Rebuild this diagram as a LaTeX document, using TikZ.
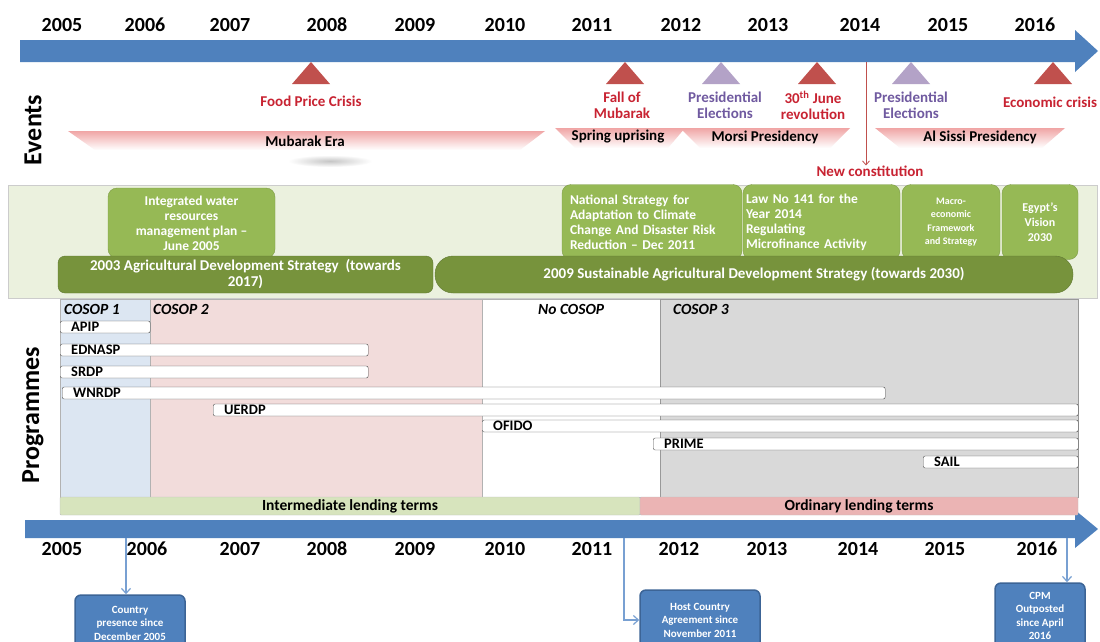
\documentclass[tikz,border=0pt]{standalone}
\usepackage{fontspec}
\setmainfont{Carlito}
\usetikzlibrary{arrows.meta}

\definecolor{tlblue}{RGB}{79,129,189}
\definecolor{tlblueedge}{RGB}{60,100,150}
\definecolor{linkblue}{RGB}{120,160,210}
\definecolor{evred}{RGB}{192,80,77}
\definecolor{evredtxt}{RGB}{200,35,50}
\definecolor{evpurple}{RGB}{179,162,199}
\definecolor{evpurpletxt}{RGB}{112,90,160}
\definecolor{erapink}{RGB}{240,165,165}
\definecolor{polbg}{RGB}{235,241,222}
\definecolor{pollight}{RGB}{150,185,85}
\definecolor{pollightedge}{RGB}{125,155,70}
\definecolor{poldark}{RGB}{119,147,60}
\definecolor{poldarkedge}{RGB}{95,120,50}
\definecolor{cosopone}{RGB}{220,230,242}
\definecolor{cosoptwo}{RGB}{242,220,219}
\definecolor{cosopthree}{RGB}{217,217,217}
\definecolor{intermc}{RGB}{215,228,189}
\definecolor{ordinc}{RGB}{235,180,180}

\begin{document}
\begin{tikzpicture}[x=1pt,y=-1pt,
  yearlabel/.style={font=\fontsize{20}{22}\selectfont\bfseries, inner sep=0},
  sidehead/.style={rotate=90, font=\fontsize{26}{28}\selectfont\bfseries, inner sep=0},
  evtext/.style={font=\fontsize{15}{16}\selectfont\bfseries, align=center, inner sep=0},
  eratext/.style={font=\fontsize{15}{16}\selectfont\bfseries, inner sep=0},
  polsmall/.style={draw=pollightedge, fill=pollight, rounded corners=9pt, text=white,
    font=\fontsize{13.5}{15}\selectfont\bfseries, inner sep=0},
  polbig/.style={draw=poldarkedge, fill=poldark, text=white, align=center,
    font=\fontsize{15}{16}\selectfont\bfseries, minimum height=37pt, inner sep=0},
  cosoplabel/.style={anchor=west, font=\fontsize{15.5}{16}\selectfont\bfseries\itshape, inner sep=0},
  progbar/.style={draw=gray!60!black, fill=white, rounded corners=2pt, anchor=west,
    minimum height=12pt, inner sep=0, inner xsep=11pt, align=left,
    font=\fontsize{14.5}{12}\selectfont\bfseries},
  lending/.style={minimum height=18pt, inner sep=0, rounded corners=1pt,
    font=\fontsize{15.5}{16}\selectfont\bfseries},
  callout/.style={draw=tlblueedge, line width=1.5pt, fill=tlblue, rounded corners=6pt,
    text=white, align=center, font=\fontsize{11}{13.5}\selectfont\bfseries, inner sep=0},
  linkarrow/.style={draw=linkblue, line width=1.2pt, -{Straight Barb[length=5pt,width=9pt]}}]

\useasboundingbox (0,0) rectangle (1100,641);
\clip (0,0) rectangle (1100,641);
\fill[white] (0,0) rectangle (1100,641);

\fill[tlblue] (20,40) -- (1075,40) -- (1075,30) -- (1098,51) -- (1075,72) -- (1075,62) -- (20,62) -- cycle;
\fill[tlblue] (25,520) -- (1075,520) -- (1075,510) -- (1098,529) -- (1075,548) -- (1075,538) -- (25,538) -- cycle;

\foreach \yr/\xx in {2005/62,2006/145,2007/230,2008/327,2009/415,2010/505,2011/592,2012/681,2013/768,2014/860,2015/948,2016/1035}
  \node[yearlabel] (top\yr) at (\xx,25) {\yr};
\foreach \yr/\xx in {2005/62,2006/147,2007/240,2008/327,2009/415,2010/505,2011/592,2012/679,2013/767,2014/858,2015/945,2016/1037}
  \node[yearlabel] (bot\yr) at (\xx,549) {\yr};

\node[sidehead] (evhead) at (33,130) {Events};
\node[sidehead] (polhead) at (33,228) {Policies};
\node[sidehead] (proghead) at (33,415) {Programmes};

\foreach \xx/\col in {311/evred,625/evred,721/evpurple,817/evred,911/evpurple,1053/evred}
  \fill[\col] (\xx-19,84) -- (\xx,62) -- (\xx+19,84) -- cycle;

\node[evtext, text=evredtxt] (food) at (311,101) {Food Price Crisis};
\node[evtext, text=evredtxt] (fall) at (622,105) {Fall of\\Mubarak};
\node[evtext, text=evpurpletxt] (presa) at (725,105) {Presidential\\Elections};
\node[evtext, text=evredtxt] (june) at (813,105) {30\textsuperscript{th} June\\revolution};
\node[evtext, text=evpurpletxt] (presb) at (911,105) {Presidential\\Elections};
\node[evtext, text=evredtxt] (econ) at (1050,102) {Economic crisis};

\shade[inner color=gray!45, outer color=white] (330,161) ellipse (42 and 6);
\shade[top color=erapink, bottom color=white] (68,131) -- (545,131) -- (520,150) -- (95,150) -- cycle;
\shade[top color=erapink, bottom color=white] (555,128) -- (685,128) -- (668,148) -- (575,148) -- cycle;
\shade[top color=erapink, bottom color=white] (680,128) -- (850,128) -- (830,148) -- (700,148) -- cycle;
\shade[top color=erapink, bottom color=white] (875,128) -- (1065,128) -- (1042,148) -- (900,148) -- cycle;
\node[eratext] (mubarak) at (305,141) {Mubarak Era};
\node[eratext] (spring) at (618,137) {Spring uprising};
\node[eratext] (morsi) at (765,137) {Morsi Presidency};
\node[eratext] (sissi) at (980,137) {Al Sissi Presidency};

\coordinate (ncfoot) at (866,62);
\node[evtext, text=evredtxt] (newcon) at (870,171) {New constitution};
\draw[evred, line width=0.8pt, -{Straight Barb[length=4pt,width=7pt]}] (ncfoot) -- (ncfoot |- newcon.north);

\filldraw[fill=polbg, draw=gray!40] (8,185) rectangle (1097,298);
\node[polsmall, minimum width=167pt, minimum height=70pt, align=center] (iwrm) at (191.5,223) {Integrated water\\resources\\management plan –\\June 2005};
\node[polsmall, text width=164pt, inner xsep=8pt, minimum height=75pt, align=left] (nsacc) at (652,222) {National Strategy for\\Adaptation to Climate\\Change And Disaster Risk\\Reduction – Dec 2011};
\node[polsmall, text width=151pt, inner xsep=3pt, minimum height=75pt, align=left] (law) at (821.5,222) {Law No 141 for the\\Year 2014\\Regulating\\Microfinance Activity};
\node[polsmall, minimum width=98pt, minimum height=75pt, align=center, font=\fontsize{10}{13.3}\selectfont\bfseries] (macro) at (951,222) {Macro-\\economic\\Framework\\and Strategy};
\node[polsmall, minimum width=76pt, minimum height=75pt, align=center, font=\fontsize{12}{15}\selectfont\bfseries] (vision) at (1040,222) {Egypt’s\\Vision\\2030};
\node[polbig, minimum width=375pt, rounded corners=7pt] (agrione) at (245.5,274.5) {2003 Agricultural Development Strategy~~(towards\\2017)};
\node[polbig, minimum width=638pt, rounded corners=18pt] (agritwo) at (754,274.5) {2009 Sustainable Agricultural Development Strategy (towards 2030)};

\filldraw[fill=cosopone, draw=gray!60] (60,299) rectangle (150,497);
\filldraw[fill=cosoptwo, draw=gray!60] (150,299) rectangle (482,497);
\filldraw[fill=white, draw=gray!60] (482,299) rectangle (660,497);
\filldraw[fill=cosopthree, draw=gray!80] (660,299) rectangle (1078,497);
\node[cosoplabel] (cosa) at (64,309) {COSOP 1};
\node[cosoplabel] (cosb) at (153,309) {COSOP 2};
\node[cosoplabel] (cosn) at (538,309) {No COSOP};
\node[cosoplabel] (cosc) at (673,309) {COSOP 3};

\node[progbar, text width=68pt] (apip) at (60,327) {APIP};
\node[progbar, text width=286pt] (ednasp) at (60,350) {EDNASP};
\node[progbar, text width=286pt] (srdp) at (60,372) {SRDP};
\node[progbar, text width=801pt] (wnrdp) at (62,393) {WNRDP};
\node[progbar, text width=843pt] (uerdp) at (213,410) {UERDP};
\node[progbar, text width=574pt] (ofido) at (482,426) {OFIDO};
\node[progbar, text width=403pt] (prime) at (653,444) {PRIME};
\node[progbar, text width=133pt] (sail) at (923,462) {SAIL};

\node[lending, fill=intermc, draw=gray!50, minimum width=580pt] (interm) at (350,506) {Intermediate lending terms};
\node[lending, fill=ordinc, draw=gray!50, minimum width=438pt] (ordin) at (859,506) {Ordinary lending terms};

\node[callout, minimum width=110pt, minimum height=56pt] (cp) at (130,623) {Country\\presence since\\December 2005};
\node[callout, minimum width=120pt, minimum height=60pt] (hca) at (700,620) {Host Country\\Agreement since\\November 2011};
\node[callout, minimum width=90pt, minimum height=66pt] (cpm) at (1040,616) {CPM\\Outposted\\since April\\2016};

\coordinate (cpfoot) at (126,538);
\coordinate (hcafoot) at (624,538);
\coordinate (cpmfoot) at (1067,538);
\draw[linkarrow] (cpfoot) -- (cpfoot |- cp.north);
\draw[linkarrow] (hcafoot) |- (hca.west);
\draw[linkarrow] (cpmfoot) -- (cpmfoot |- cpm.north);

\end{tikzpicture}
\end{document}
